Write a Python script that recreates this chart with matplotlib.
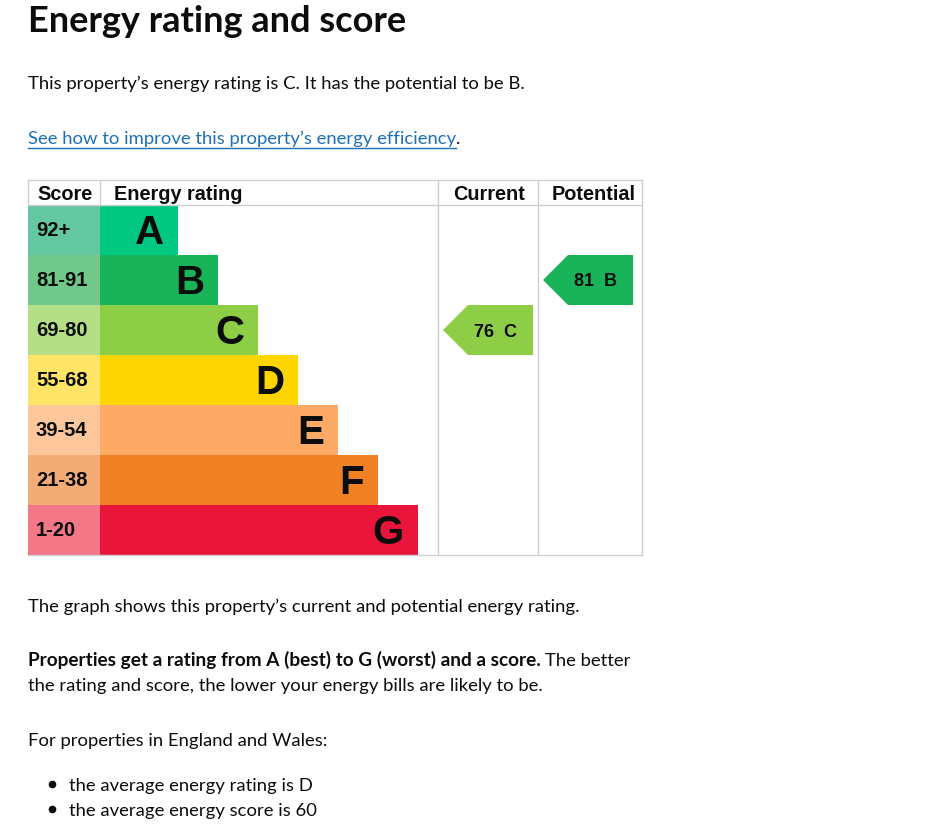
import matplotlib

matplotlib.use("Agg")
import matplotlib.pyplot as plt  # noqa: E402
from matplotlib.patches import Polygon, Rectangle  # noqa: E402

# EPC bands, top (best) to bottom (worst)
bands = ["A", "B", "C", "D", "E", "F", "G"]
score_ranges = ["92+", "81-91", "69-80", "55-68", "39-54", "21-38", "1-20"]
band_colors = ["#00c781", "#19b459", "#8dce46", "#ffd500", "#fcaa65", "#ef8023", "#e9153b"]
score_colors = ["#63c8a1", "#70c98b", "#b4df86", "#ffe467", "#fdc79b", "#f3ac76", "#f37786"]
current_score, current_band = 76, "C"
potential_score, potential_band = 81, "B"

W, H = 936, 833
GRID = "#cfcfcf"
BODY = "Lato"
CHART = "Liberation Sans"

fig = plt.figure(figsize=(W / 100, H / 100), dpi=100)
ax = fig.add_axes((0, 0, 1, 1))
ax.set_xlim(0, W); ax.set_ylim(H, 0); ax.axis("off")

# table geometry (pixels)
x0, x_score, x_cur, x_pot, x1 = 28, 100, 438, 538, 642
y_top, y_head, row_h = 180, 205, 50
y_bot = y_head + row_h * len(bands)

for i, (band, rng) in enumerate(zip(bands, score_ranges)):
    y = y_head + i * row_h
    bar_end = x_score + 78 + 40 * i
    ax.add_patch(Rectangle((x0, y), x_score - x0, row_h, color=score_colors[i], lw=0))
    ax.add_patch(Rectangle((x_score, y), bar_end - x_score, row_h, color=band_colors[i], lw=0))
    ax.text(x0 + 8, y + row_h / 2 + 5.5, rng, family=CHART, weight="bold", fontsize=14.5,
            va="baseline", ha="left", color="#0b0c0c")
    ax.text(bar_end - 14, y + row_h / 2 + 13.5, band, family=CHART, weight="bold", fontsize=29,
            va="baseline", ha="right", color="#0b0c0c")

# grid lines
lw = 1.0
ax.plot([x0, x1], [y_top, y_top], color=GRID, lw=lw)
ax.plot([x0, x1], [y_head, y_head], color=GRID, lw=lw)
ax.plot([x0, x1], [y_bot, y_bot], color=GRID, lw=lw)
ax.plot([x0, x0], [y_top, y_head], color=GRID, lw=lw)
ax.plot([x_score, x_score], [y_top, y_head], color=GRID, lw=lw)
for xv in (x_cur, x_pot, x1):
    ax.plot([xv, xv], [y_top, y_bot], color=GRID, lw=lw)

for label, xx in [("Score", 37), ("Energy rating", 114), ("Current", 453), ("Potential", 552)]:
    ax.text(xx, 200, label, family=CHART, weight="bold", fontsize=14.3, va="baseline", ha="left",
            color="#0b0c0c")


def arrow(score, band, col_x):
    i = bands.index(band)
    y = y_head + i * row_h
    tip = col_x + 5
    pts = [(tip, y + row_h / 2), (tip + 25, y), (tip + 90, y), (tip + 90, y + row_h), (tip + 25, y + row_h)]
    ax.add_patch(Polygon(pts, closed=True, color=band_colors[i], lw=0))
    ax.text(tip + 53, y + row_h / 2 + 6.5, f"{score}  {band}", family=CHART, weight="bold",
            fontsize=13, va="baseline", ha="center", color="#0b0c0c")


arrow(current_score, current_band, x_cur)
arrow(potential_score, potential_band, x_pot)

# surrounding page text
body = dict(family=BODY, fontsize=13.3, va="baseline", ha="left", color="#0b0c0c")
ax.text(28, 32, "Energy rating and score", family=BODY, weight="bold", fontsize=26,
        va="baseline", ha="left", color="#0b0c0c")
ax.text(28, 89, "This property\u2019s energy rating is C. It has the potential to be B.", **body)

fig.canvas.draw()
rend = fig.canvas.get_renderer()
inv = ax.transData.inverted()


def right_edge(t):
    bb = t.get_window_extent(rend)
    return inv.transform((bb.x1, bb.y0))[0]


link = ax.text(28, 144, "See how to improve this property\u2019s energy efficiency", **{**body, "color": "#1d70b8"})
lx = right_edge(link)
ax.plot([28, lx], [148, 148], color="#1d70b8", lw=1.0)
ax.text(lx, 144, ".", **body)

ax.text(28, 612, "The graph shows this property\u2019s current and potential energy rating.", **body)
bold = ax.text(28, 666, "Properties get a rating from A (best) to G (worst) and a score.",
               **{**body, "weight": "bold", "fontsize": 13.7})
ax.text(right_edge(bold) + 4, 666, "The better", **body)
ax.text(28, 691, "the rating and score, the lower your energy bills are likely to be.", **body)
ax.text(28, 746, "For properties in England and Wales:", **body)
for yy, line in [(791, "the average energy rating is D"), (816, "the average energy score is 60")]:
    ax.plot([52], [yy - 7], marker="o", ms=4.5, color="#0b0c0c")
    ax.text(69, yy, line, **body)

fig.savefig("out.png", dpi=100)
